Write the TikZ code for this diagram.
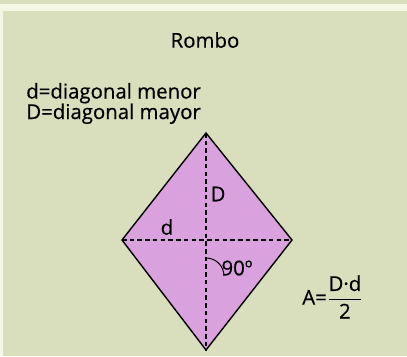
\documentclass[tikz,border=0pt]{standalone}
\usepackage{amsmath}
\usepackage{fontspec}
\setmainfont{Open Sans}[FakeBold=0.5]
\usetikzlibrary{positioning}
\definecolor{bgcol}{HTML}{D9DEBC}
\definecolor{stripcol}{HTML}{F4F6E6}
\definecolor{rhombcol}{HTML}{D9A2DE}

\begin{document}
\begin{tikzpicture}[
  x=0.025cm, y=-0.025cm,
  lab/.style={font=\fontsize{14.5}{17}\selectfont, inner sep=0pt, text=black},
  legend/.style={lab, anchor=base west, text height=9pt, text depth=2pt},
  diag/.style={dashed, dash pattern=on 3.2pt off 2.3pt, line width=0.9pt},
  edge/.style={line width=1pt, fill=rhombcol}
]
  % background
  \fill[bgcol] (0,0) rectangle (407,356);
  \fill[stripcol] (0,4) rectangle (407,11);
  \fill[stripcol] (0,11) rectangle (3,356);
  \useasboundingbox (0,0) rectangle (407,356);

  \node[lab] (title) at (205,40) {Rombo};
  \node[legend] (l1) at (26,98.5) {d=diagonal menor};
  \node[legend] (l2) at (26,119) {D=diagonal mayor};

  \coordinate (top) at (206,133);
  \coordinate (bot) at (206,350);
  \coordinate (lft) at (122,240);
  \coordinate (rgt) at (292,240);
  \coordinate (c) at (206,240);
  \draw[edge] (top) -- (rgt) -- (bot) -- (lft) -- cycle;
  \draw[diag] (top) -- (bot);
  \draw[diag] (lft) -- (rgt);
  \draw[line width=0.7pt] (206,258) arc[start angle=-90, end angle=0, radius=18];

  \node[lab] (dD) at (218,194) {D};
  \node[lab] (dd) at (167,227) {d};
  \node[lab] (ang) at (237,268) {90º};
  \node[lab, anchor=west] (area) at (302,297) {A=$\dfrac{\text{D·d}}{\text{2}}$};
\end{tikzpicture}
\end{document}
